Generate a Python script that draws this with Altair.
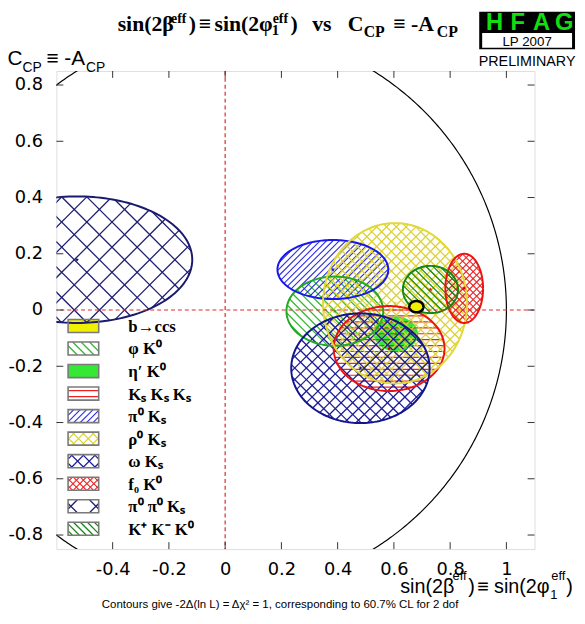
import math
import altair as alt
import pandas as pd

# ---------------- data ----------------
modes = ["b→ccs", "φ K⁰", "η′ K⁰", "Kₛ Kₛ Kₛ", "π⁰ Kₛ", "ρ⁰ Kₛ",
         "ω Kₛ", "f₀ K⁰", "π⁰ π⁰ Kₛ", "K⁺ K⁻ K⁰"]
sin2b = [0.68, 0.39, 0.607, 0.583, 0.383, 0.604, 0.481, 0.85, -0.527, 0.73]
sin2b_err = [0.025, 0.172, 0.077, 0.197, 0.197, 0.256, 0.246, 0.067, 0.41, 0.098]
ccp = [0.012, -0.004, -0.085, -0.137, 0.144, 0.024, -0.207, 0.077, 0.179, 0.073]
ccp_err = [0.020, 0.123, 0.060, 0.151, 0.105, 0.285, 0.195, 0.123, 0.225, 0.084]

x_ticks = [-0.4, -0.2, 0.0, 0.2, 0.4, 0.6, 0.8, 1.0]
y_ticks = [-0.8, -0.6, -0.4, -0.2, 0.0, 0.2, 0.4, 0.6, 0.8]

# ---------------- styles ----------------
XDOM = [-0.6, 1.1]
YDOM = [-0.85, 0.85]
W = H = 484
PX = W / (XDOM[1] - XDOM[0])  # pixels per unit

styles = [
    dict(fill="#f0f000", edge="#000000", ew=2.6, hatch=[], sp=0, hc="#000", hw=1.0, star=None),
    dict(fill=None, edge="#22a822", ew=2.0, hatch=[-45], sp=6.0, hc="#34b834", hw=1.3, star="#22a822"),
    dict(fill="#36e836", edge="#30e030", ew=1.0, hatch=[], sp=0, hc="#000", hw=1.0, star="#118811"),
    dict(fill=None, edge="#ee1111", ew=2.0, hatch=[0], sp=6.0, hc="#ee2020", hw=1.2, star="#bb0000"),
    dict(fill=None, edge="#1818ee", ew=2.0, hatch=[45], sp=4.6, hc="#2a2aee", hw=1.1, star="#1818ee"),
    dict(fill=None, edge="#e2d838", ew=2.0, hatch=[45, -45], sp=7.0, hc="#dcd232", hw=1.3, star="#d8cc30"),
    dict(fill=None, edge="#141490", ew=2.0, hatch=[45, -45], sp=8.3, hc="#1c1c98", hw=1.3, star="#141490"),
    dict(fill=None, edge="#ee1111", ew=2.0, hatch=[45, -45], sp=5.0, hc="#ee2020", hw=1.1, star="#cc0000"),
    dict(fill=None, edge="#1a1a6e", ew=2.0, hatch=[45, -45], sp=18.0, hc="#1e1e72", hw=1.3, star="#1a1a6e"),
    dict(fill=None, edge="#118811", ew=2.0, hatch=[-45], sp=5.0, hc="#118811", hw=1.2, star="#cc2222"),
]


def ellipse_hatch(cx, cy, a, b, ang, sp):
    th = math.radians(ang)
    dx, dy = math.cos(th), math.sin(th)
    nx, ny = -dy, dx
    A = dx * dx / a ** 2 + dy * dy / b ** 2
    segs = []
    cmax = math.sqrt(a * a * nx * nx + b * b * ny * ny)
    nc = nx * cx + ny * cy
    k0 = math.floor((nc - cmax) / sp)
    k1 = math.ceil((nc + cmax) / sp)
    for k in range(k0, k1 + 1):
        c = k * sp - nc
        B = 2 * c * (nx * dx / a ** 2 + ny * dy / b ** 2)
        C = c * c * (nx * nx / a ** 2 + ny * ny / b ** 2) - 1
        disc = B * B - 4 * A * C
        if disc <= 0:
            continue
        r = math.sqrt(disc)
        t1, t2 = (-B - r) / (2 * A), (-B + r) / (2 * A)
        segs.append((cx + c * nx + t1 * dx, cy + c * ny + t1 * dy,
                     cx + c * nx + t2 * dx, cy + c * ny + t2 * dy))
    return segs


def rect_hatch(x0, x1, y0, y1, ang, sp):
    th = math.radians(ang)
    dx, dy = math.cos(th), math.sin(th)
    nx, ny = -dy, dx
    cx, cy = (x0 + x1) / 2, (y0 + y1) / 2
    cmax = abs(nx) * (x1 - x0) / 2 + abs(ny) * (y1 - y0) / 2
    segs = []
    for k in range(math.floor(-cmax / sp) - 1, math.ceil(cmax / sp) + 2):
        c = k * sp + sp / 2
        px, py = cx + c * nx, cy + c * ny
        tlo, thi = -1e9, 1e9
        ok = True
        for p, d, lo, hi in ((px, dx, x0, x1), (py, dy, y0, y1)):
            if abs(d) < 1e-12:
                if p < lo or p > hi:
                    ok = False
            else:
                ta, tb = (lo - p) / d, (hi - p) / d
                tlo = max(tlo, min(ta, tb))
                thi = min(thi, max(ta, tb))
        if ok and thi > tlo:
            segs.append((px + tlo * dx, py + tlo * dy, px + thi * dx, py + thi * dy))
    return segs


# legend geometry (layout, in data units)
LX0, LX1 = (69 - 228) / PX, (100 - 228) / PX
LTX = (130 - 228) / PX
LROW = [(310.8 - (327 + 22.8 * i)) / PX for i in range(len(modes))]
LH = 6.6 / PX

outline_rows, hatch_rows, fill_rows, star_rows = [], [], [], []
leg_fill, leg_box, leg_text = [], [], []
for i, m in enumerate(modes):
    st = styles[i]
    cx, cy, a, b = sin2b[i], ccp[i], sin2b_err[i], ccp_err[i]
    sp = st["sp"] / PX if st["sp"] else 0
    if i != 0:
        for j in range(181):
            t = 2 * math.pi * j / 180
            outline_rows.append(dict(name=m, x=cx + a * math.cos(t), y=cy + b * math.sin(t),
                                     o=j, col=st["edge"], sw=st["ew"]))
    for ang in st["hatch"]:
        for s in ellipse_hatch(cx, cy, a, b, ang, sp):
            hatch_rows.append(dict(x=s[0], y=s[1], x2=s[2], y2=s[3], col=st["hc"], sw=st["hw"]))
    if st["fill"] and i != 0:
        for j in range(61):
            t = math.pi * (1 - j / 60)
            fill_rows.append(dict(name=m, x=cx + a * math.cos(t), y=cy + b * math.sin(t),
                                  y2=cy - b * math.sin(t), col=st["fill"]))
    if st["star"]:
        star_rows.append(dict(x=cx, y=cy, col=st["star"]))
    # legend
    y0, y1 = LROW[i] - LH, LROW[i] + LH
    leg_box.append(dict(x=LX0, x2=LX1, y=y0, y2=y1))
    if st["fill"]:
        leg_fill.append(dict(x=LX0, x2=LX1, y=y0, y2=y1, col=st["fill"]))
    for ang in st["hatch"]:
        lsp = max(sp, 4.5 / PX)
        for s in rect_hatch(LX0, LX1, y0, y1, ang, lsp):
            hatch_rows.append(dict(x=s[0], y=s[1], x2=s[2], y2=s[3], col=st["hc"], sw=st["hw"]))
    leg_text.append(dict(x=LTX, y=LROW[i], text=m))

# b->ccs on top
bccs_fill, bccs_line = [], []
for j in range(61):
    t = math.pi * (1 - j / 60)
    bccs_fill.append(dict(x=sin2b[0] + sin2b_err[0] * math.cos(t),
                          y=ccp[0] + ccp_err[0] * math.sin(t),
                          y2=ccp[0] - ccp_err[0] * math.sin(t)))
for j in range(91):
    t = 2 * math.pi * j / 90
    bccs_line.append(dict(x=sin2b[0] + sin2b_err[0] * math.cos(t),
                          y=ccp[0] + ccp_err[0] * math.sin(t), o=j))

circle_rows = [dict(x=math.cos(2 * math.pi * j / 720), y=math.sin(2 * math.pi * j / 720), o=j)
               for j in range(721)]

# ---------------- scales / axes ----------------
xs = alt.Scale(domain=XDOM, nice=False, zero=False)
ys = alt.Scale(domain=YDOM, nice=False, zero=False)
lab = "datum.value < 0 ? '-' + format(-datum.value, '.1~f') : format(datum.value, '.1~f')"
xax = alt.Axis(values=x_ticks, tickSize=0, ticks=False, domain=False, grid=False, title=None,
               labelFont="DejaVu Sans", labelFontSize=18, labelColor="#000", labelPadding=12,
               labelExpr=lab, labelFlush=False)
yax = alt.Axis(values=y_ticks, tickSize=0, ticks=False, domain=False, grid=False, title=None,
               labelFont="DejaVu Sans", labelFontSize=18, labelColor="#000", labelPadding=14,
               labelExpr=lab, labelFlush=False)


def X(f="x"):
    return alt.X(f"{f}:Q", scale=xs, axis=xax)


def Y(f="y"):
    return alt.Y(f"{f}:Q", scale=ys, axis=yax)


fills = alt.Chart(pd.DataFrame(fill_rows)).mark_area(clip=True, opacity=1).encode(
    x=X(), y=Y(), y2="y2:Q", color=alt.Color("col:N", scale=None), detail="name:N")
legfills = alt.Chart(pd.DataFrame(leg_fill)).mark_rect(clip=True).encode(
    x=X(), x2="x2:Q", y=Y(), y2="y2:Q", color=alt.Color("col:N", scale=None))
hatches = alt.Chart(pd.DataFrame(hatch_rows)).mark_rule(clip=True).encode(
    x=X(), y=Y(), x2="x2:Q", y2="y2:Q", color=alt.Color("col:N", scale=None),
    strokeWidth=alt.StrokeWidth("sw:Q", scale=None))
outlines = alt.Chart(pd.DataFrame(outline_rows)).mark_line(clip=True).encode(
    x=X(), y=Y(), order="o:Q", detail="name:N", color=alt.Color("col:N", scale=None),
    strokeWidth=alt.StrokeWidth("sw:Q", scale=None))
circle = alt.Chart(pd.DataFrame(circle_rows)).mark_line(clip=True, color="#000", strokeWidth=1.2).encode(
    x=X(), y=Y(), order="o:Q")
vdash = alt.Chart(pd.DataFrame({"x": [0.0]})).mark_rule(
    clip=True, color="#e02828", strokeDash=[4, 3], strokeWidth=1.2).encode(x=X())
hdash = alt.Chart(pd.DataFrame({"y": [0.0]})).mark_rule(
    clip=True, color="#e02828", strokeDash=[4, 3], strokeWidth=1.2).encode(y=Y())
bfill = alt.Chart(pd.DataFrame(bccs_fill)).mark_area(clip=True, color=styles[0]["fill"]).encode(
    x=X(), y=Y(), y2="y2:Q")
bline = alt.Chart(pd.DataFrame(bccs_line)).mark_line(clip=True, color="#000", strokeWidth=2.6).encode(
    x=X(), y=Y(), order="o:Q")
STAR = "M0,-1L0.24,-0.33L0.95,-0.31L0.38,0.12L0.59,0.81L0,0.4L-0.59,0.81L-0.38,0.12L-0.95,-0.31L-0.24,-0.33Z"
stars = alt.Chart(pd.DataFrame(star_rows)).mark_point(shape=STAR, filled=True, size=22, opacity=1).encode(
    x=X(), y=Y(), color=alt.Color("col:N", scale=None))
legboxes = alt.Chart(pd.DataFrame(leg_box)).mark_rect(
    fill=None, stroke="#7a7a7a", strokeWidth=1.6, fillOpacity=0).encode(x=X(), x2="x2:Q", y=Y(), y2="y2:Q")
legtext = alt.Chart(pd.DataFrame(leg_text)).mark_text(
    align="left", baseline="alphabetic", dy=6, font="Liberation Serif", fontWeight="bold",
    fontSize=17, color="#000").encode(x=X(), y=Y(), text="text:N")

# inward ticks on all four sides
xt = pd.DataFrame({"x": x_ticks})
yt = pd.DataFrame({"y": y_ticks})
tick_layers = [
    alt.Chart(xt).mark_rule(color="#333", strokeWidth=1).encode(x=X(), y=alt.value(H), y2=alt.value(H - 7)),
    alt.Chart(xt).mark_rule(color="#333", strokeWidth=1).encode(x=X(), y=alt.value(0), y2=alt.value(7)),
    alt.Chart(yt).mark_rule(color="#333", strokeWidth=1).encode(y=Y(), x=alt.value(0), x2=alt.value(7)),
    alt.Chart(yt).mark_rule(color="#333", strokeWidth=1).encode(y=Y(), x=alt.value(W - 7), x2=alt.value(W)),
]

# ---------------- text outside the plot (pixel positions, page coords - origin) ----------------
OX, OY = 57, 68


def pix_text(rows, font, weight="normal", align="left", color="#000"):
    df = pd.DataFrame([dict(px=r[1] - OX, py=r[2] - OY, text=r[0], size=r[3]) for r in rows])
    return alt.Chart(df).mark_text(align=align, baseline="alphabetic", font=font,
                                   fontWeight=weight, color=color).encode(
        x=alt.X("px:Q", scale=None, axis=None), y=alt.Y("py:Q", scale=None, axis=None),
        text="text:N", size=alt.Size("size:Q", scale=None))


title_rows = [
    ("sin(2β", 119, 28, 22), ("eff", 173, 19, 14), (")", 191, 28, 22), ("≡", 201, 28, 22),
    ("sin(2φ", 217, 28, 22), ("1", 275, 32, 15), ("eff", 276, 19, 14), (")", 294, 28, 22),
    ("vs", 316, 28, 22), ("C", 352, 28, 22), ("CP", 368, 34, 16), ("≡", 398, 28, 22),
    ("-A", 416, 28, 22), ("CP", 442, 34, 16),
]
ytitle_rows = [
    ("C", 7.5, 61.5, 21), ("CP", 22.7, 69, 14), ("≡", 47, 61.5, 21), ("-A", 65, 61.5, 21),
    ("CP", 87, 69, 14),
]
xtitle_rows = [
    ("sin(2β", 405, 596, 20), ("eff", 458, 583, 13), (")", 474, 596, 20), ("≡", 483, 596, 20),
    ("sin(2φ", 500, 596, 20), ("1", 557, 603, 13), ("eff", 558, 583, 13), (")", 573, 596, 20),
]
foot_rows = [("Contours give -2Δ(ln L) = Δχ² = 1, corresponding to 60.7% CL for 2 dof", 103, 612, 11.6)]
prelim_rows = [("LP 2007", 533.5, 42.5, 13.5), ("PRELIMINARY", 533.5, 63, 14.5)]
hfag_rows = [("H", 500.5, 27, 24), ("F", 524, 27, 24), ("A", 548, 27, 24), ("G", 571, 27, 24)]

box_df = pd.DataFrame([
    dict(px=485 - OX, px2=582 - OX, py=8 - OY, py2=46 - OY, col="#000000"),
    dict(px=488 - OX, px2=579 - OX, py=29.5 - OY, py2=44.5 - OY, col="#ffffff"),
])
boxes = alt.Chart(box_df).mark_rect().encode(
    x=alt.X("px:Q", scale=None, axis=None), x2="px2:Q",
    y=alt.Y("py:Q", scale=None, axis=None), y2="py2:Q", color=alt.Color("col:N", scale=None))

texts = [
    pix_text(title_rows, "Liberation Serif", "bold"),
    pix_text(ytitle_rows, "Liberation Sans"),
    pix_text(xtitle_rows, "Liberation Sans"),
    pix_text(foot_rows, "Liberation Sans"),
    boxes,
    pix_text(prelim_rows, "Liberation Sans", align="center"),
    pix_text(hfag_rows, "Liberation Sans", "bold", align="center", color="#10e010"),
]

chart = alt.layer(
    fills, legfills, hatches, outlines, circle, vdash, hdash, bfill, bline, stars,
    legboxes, legtext, *tick_layers, *texts
).properties(
    width=W, height=H,
    padding={"left": 49, "top": 60, "right": 43, "bottom": 64},
    autosize=alt.AutoSizeParams(type="none"),
).configure_view(stroke="#333", strokeWidth=1.2).configure(background="white")

chart.save("out.html", embed_options={"renderer": "svg", "actions": False})
